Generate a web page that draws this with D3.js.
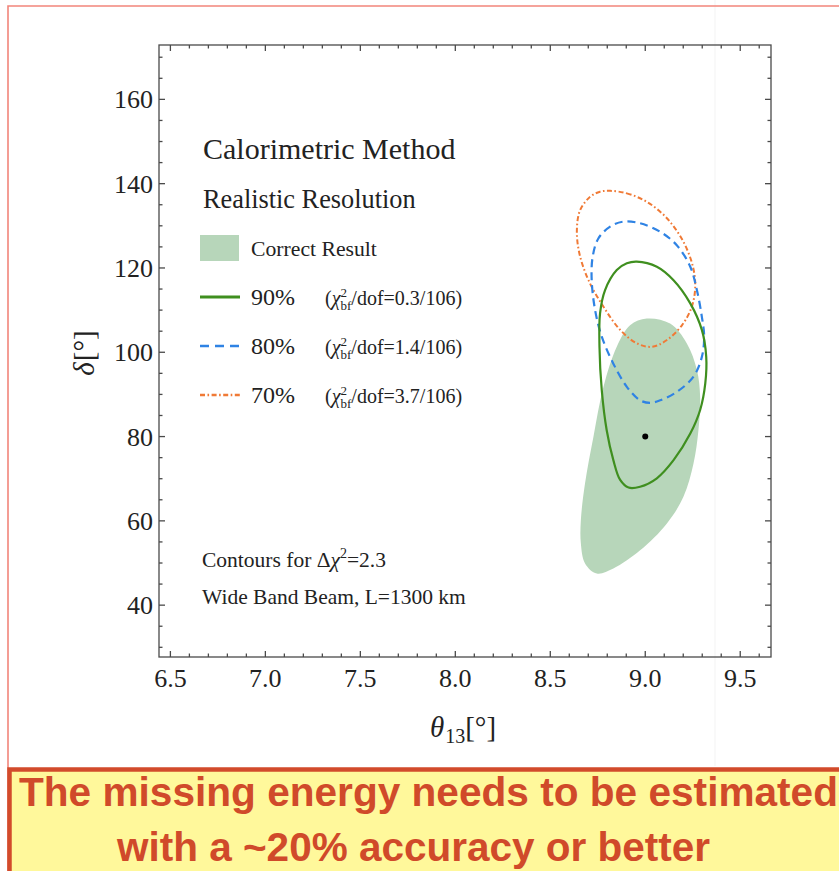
<!DOCTYPE html>
<html>
<head>
<meta charset="utf-8">
<script src="https://cdn.jsdelivr.net/npm/d3@7/dist/d3.min.js"></script>
<style>
  html, body { margin: 0; padding: 0; background: #fff; }
  svg { display: block; }
</style>
</head>
<body>
<svg id="chart" width="839" height="871"></svg>
<script>
// θ13 (deg) / δ (deg) contour outlines, each a closed loop of [theta, delta] points
const correctRegion = [
  [9.008,108.0],[9.131,106.8],[9.219,102.1],[9.272,95.8],[9.289,89.4],[9.280,81.5],
  [9.254,73.6],[9.201,65.7],[9.114,59.4],[8.973,53.0],[8.832,48.7],[8.745,47.5],
  [8.683,49.9],[8.661,54.6],[8.661,60.2],[8.683,68.9],[8.727,79.9],[8.780,91.8],
  [8.850,101.3],[8.920,106.4]
];
const contour90 = [
  [8.955,121.5],[9.061,120.3],[9.149,117.1],[9.237,111.6],[9.298,105.3],[9.321,98.9],
  [9.316,92.6],[9.289,86.3],[9.237,80.7],[9.149,74.4],[9.061,70.1],[8.973,68.1],
  [8.912,67.9],[8.868,69.7],[8.832,74.4],[8.797,81.5],[8.771,91.0],[8.759,101.3],
  [8.762,109.2],[8.788,114.7],[8.850,119.5],[8.903,121.1]
];
const contour80 = [
  [8.885,131.0],[8.973,130.6],[9.078,128.6],[9.166,125.4],[9.237,120.3],[9.272,114.7],
  [9.298,108.4],[9.310,103.7],[9.298,98.9],[9.254,94.2],[9.166,90.6],[9.078,88.6],
  [9.026,88.0],[8.973,88.6],[8.903,91.8],[8.832,97.3],[8.771,103.7],[8.736,110.0],
  [8.718,117.1],[8.723,122.6],[8.753,127.0],[8.815,129.8]
];
const contour70 = [
  [8.815,138.3],[8.903,137.7],[9.008,135.7],[9.114,131.8],[9.201,126.2],[9.251,120.3],
  [9.263,115.5],[9.245,110.8],[9.193,106.4],[9.114,102.9],[9.035,101.3],[8.956,102.1],
  [8.868,105.3],[8.780,110.8],[8.701,117.1],[8.653,123.5],[8.640,129.0],[8.657,133.7],
  [8.710,136.9],[8.762,138.1]
];
const bestFit = [9.0, 80.0];

// axis ticks
const xMajorTicks = [6.5, 7.0, 7.5, 8.0, 8.5, 9.0, 9.5];
const xMinorTicks = d3.range(65, 97).map(d => d / 10);
const yMajorTicks = [40, 60, 80, 100, 120, 140, 160];
const yMinorTicks = d3.range(30, 171, 5);

// legend entries
const legendNames = ["90%", "80%", "70%"];
const chiValues = ["0.3/106", "1.4/106", "3.7/106"];

const bannerLines = ["The missing energy needs to be estimated", "with a ~20% accuracy or better"];

const svg = d3.select("#chart");
const serif = "'Liberation Serif', 'Times New Roman', serif";

const frame = { left: 159, right: 771, top: 45, bottom: 657 };
const x = d3.scaleLinear().domain([6.44, 9.662]).range([frame.left, frame.right]);
const y = d3.scaleLinear().domain([27.7, 172.9]).range([frame.bottom, frame.top]);

const colors = {
  fill: "#b7d6ba",
  c90: "#3f8f1f",
  c80: "#2f83e4",
  c70: "#f07a36",
  frame: "#4a4a4a"
};

// slide frame
svg.append("line").attr("x1", 715).attr("x2", 715).attr("y1", 0).attr("y2", 766)
  .attr("stroke", "#f3f3f3").attr("stroke-width", 1);
svg.append("path").attr("d", "M8,871 L8,6 L845,6")
  .attr("fill", "none").attr("stroke", "#f2857b").attr("stroke-width", 1.6);

// one text element with inline sub/superscript tspans
function rich(parent, px, py, parts, anchor) {
  const t = parent.append("text").attr("font-family", serif).attr("fill", "#222");
  let cx = 0, lastStart = 0, lastWidth = 0;
  parts.forEach(p => {
    const s = t.append("tspan")
      .attr("y", p.dy || 0)
      .attr("font-size", p.size)
      .attr("font-style", p.italic ? "italic" : null)
      .text(p.t);
    const w = s.node().getComputedTextLength();
    if (p.stack) {
      s.attr("x", lastStart);
      const m = Math.max(lastWidth, w);
      cx = lastStart + m; lastWidth = m;
    } else {
      s.attr("x", cx);
      lastStart = cx; lastWidth = w; cx += w + (p.after || 0);
    }
  });
  const off = anchor === "middle" ? -cx / 2 : anchor === "end" ? -cx : 0;
  t.attr("transform", `translate(${px + off},${py})`);
  return t;
}

// contours
const line = d3.line().x(d => x(d[0])).y(d => y(d[1])).curve(d3.curveCatmullRomClosed.alpha(0.5));
const plot = svg.append("g");
plot.append("path").attr("d", line(correctRegion)).attr("fill", colors.fill).attr("stroke", "none");
plot.append("path").attr("d", line(contour70)).attr("fill", "none")
  .attr("stroke", colors.c70).attr("stroke-width", 2).attr("stroke-dasharray", "5,2.5,1.6,2.5");
plot.append("path").attr("d", line(contour80)).attr("fill", "none")
  .attr("stroke", colors.c80).attr("stroke-width", 2.2).attr("stroke-dasharray", "8,5");
plot.append("path").attr("d", line(contour90)).attr("fill", "none")
  .attr("stroke", colors.c90).attr("stroke-width", 2.2);
plot.append("circle").attr("cx", x(bestFit[0])).attr("cy", y(bestFit[1])).attr("r", 3).attr("fill", "#000");

// frame and inward ticks
const axes = svg.append("g").attr("stroke", colors.frame).attr("stroke-width", 1.3);
axes.append("rect").attr("x", frame.left).attr("y", frame.top)
  .attr("width", frame.right - frame.left).attr("height", frame.bottom - frame.top).attr("fill", "none");
const isMajorX = v => xMajorTicks.some(m => Math.abs(m - v) < 1e-6);
const isMajorY = v => yMajorTicks.includes(v);
xMinorTicks.forEach(v => {
  const len = isMajorX(v) ? 6 : 3.5;
  axes.append("line").attr("x1", x(v)).attr("x2", x(v)).attr("y1", frame.bottom).attr("y2", frame.bottom - len);
  axes.append("line").attr("x1", x(v)).attr("x2", x(v)).attr("y1", frame.top).attr("y2", frame.top + len);
});
yMinorTicks.forEach(v => {
  const len = isMajorY(v) ? 6 : 3.5;
  axes.append("line").attr("y1", y(v)).attr("y2", y(v)).attr("x1", frame.left).attr("x2", frame.left + len);
  axes.append("line").attr("y1", y(v)).attr("y2", y(v)).attr("x1", frame.right).attr("x2", frame.right - len);
});

// tick labels
const fmtX = d3.format(".1f");
svg.append("g").attr("font-family", serif).attr("font-size", 26).attr("fill", "#222")
  .selectAll("text").data(xMajorTicks).join("text")
  .attr("x", d => x(d)).attr("y", 687).attr("text-anchor", "middle").text(d => fmtX(d));
svg.append("g").attr("font-family", serif).attr("font-size", 26).attr("fill", "#222")
  .selectAll("text").data(yMajorTicks).join("text")
  .attr("x", frame.left - 6).attr("y", d => y(d)).attr("dy", "0.35em").attr("text-anchor", "end").text(d => d);

// axis titles
rich(svg, 463, 737, [
  { t: "θ", size: 29, italic: true, after: 1 },
  { t: "13", size: 20, dy: 6 },
  { t: "[°]", size: 29 }
], "middle");
const yTitle = svg.append("g").attr("transform", "translate(94,353) rotate(-90)");
rich(yTitle, 0, 0, [
  { t: "δ", size: 29, italic: true, after: 1 },
  { t: "[°]", size: 29 }
], "middle");

// legend
svg.append("text").attr("x", 203).attr("y", 159).attr("font-family", serif).attr("font-size", 30)
  .attr("fill", "#222").text("Calorimetric Method");
svg.append("text").attr("x", 203).attr("y", 208).attr("font-family", serif).attr("font-size", 26.3)
  .attr("fill", "#222").text("Realistic Resolution");
svg.append("rect").attr("x", 200).attr("y", 235).attr("width", 39).attr("height", 26).attr("fill", colors.fill);
svg.append("text").attr("x", 251).attr("y", 256).attr("font-family", serif).attr("font-size", 21.7)
  .attr("fill", "#222").text("Correct Result");

const legendStyles = [
  { color: colors.c90, dash: null, width: 3 },
  { color: colors.c80, dash: "9,6", width: 2.6 },
  { color: colors.c70, dash: "5,2.5,1.6,2.5", width: 2.4 }
];
legendNames.forEach((name, i) => {
  const ly = 297 + i * 49;
  const st = legendStyles[i];
  svg.append("line").attr("x1", 200).attr("x2", 240).attr("y1", ly).attr("y2", ly)
    .attr("stroke", st.color).attr("stroke-width", st.width).attr("stroke-dasharray", st.dash);
  svg.append("text").attr("x", 251).attr("y", ly + 8).attr("font-family", serif).attr("font-size", 24)
    .attr("fill", "#222").text(name);
  rich(svg, 325, ly + 8, [
    { t: "(", size: 20 },
    { t: "χ", size: 20, italic: true },
    { t: "2", size: 13, dy: -8 },
    { t: "bf", size: 13, dy: 5, stack: true },
    { t: "/dof=" + chiValues[i] + ")", size: 20 }
  ], "start");
});

// annotations
rich(svg, 202, 567, [
  { t: "Contours for Δ", size: 21.5 },
  { t: "χ", size: 21.5, italic: true },
  { t: "2", size: 14, dy: -9 },
  { t: "=2.3", size: 21.5 }
], "start");
svg.append("text").attr("x", 202).attr("y", 604).attr("font-family", serif).attr("font-size", 21.5)
  .attr("fill", "#222").text("Wide Band Beam, L=1300 km");

// banner
svg.append("rect").attr("x", 9.5).attr("y", 769.5).attr("width", 900).attr("height", 200)
  .attr("fill", "#fff89b").attr("stroke", "#d24b2b").attr("stroke-width", 4.5);
const bannerSpans = [[19, 838, 806], [117, 710, 861]];
bannerLines.forEach((txt, i) => {
  const [x0, x1, by] = bannerSpans[i];
  svg.append("text").attr("x", x0).attr("y", by)
    .attr("font-family", "'Liberation Sans', Arial, sans-serif").attr("font-weight", "bold")
    .attr("font-size", 40).attr("fill", "#d04a2a")
    .attr("textLength", x1 - x0).attr("lengthAdjust", "spacingAndGlyphs")
    .text(txt);
});
</script>
</body>
</html>
